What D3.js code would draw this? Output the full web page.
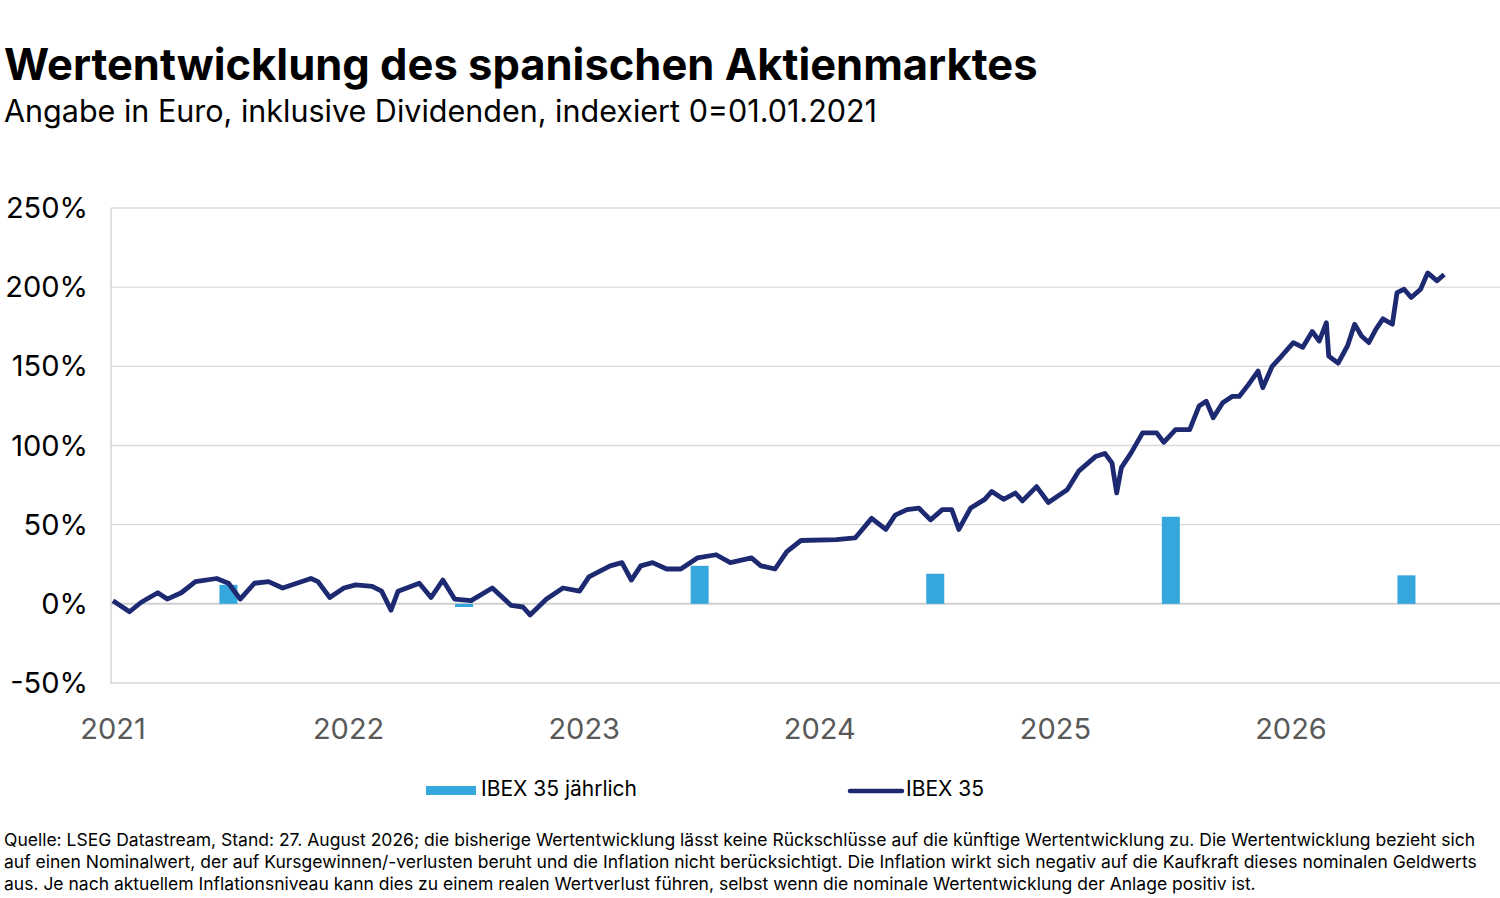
<!DOCTYPE html>
<html><head><meta charset="utf-8">
<script src="https://cdn.jsdelivr.net/npm/d3@7"></script>
<style>body{margin:0;background:#fff;font-family:Inter,"Noto Sans",sans-serif;}</style>
</head><body><svg id="c" width="1500" height="898"></svg>
<script>
const years = [2021.0,2021.07,2021.12,2021.19,2021.23,2021.29,2021.35,2021.44,2021.49,2021.54,2021.60,2021.66,2021.72,2021.78,2021.84,2021.87,2021.92,2021.98,2022.03,2022.10,2022.14,2022.18,2022.21,2022.30,2022.35,2022.40,2022.45,2022.52,2022.61,2022.69,2022.74,2022.77,2022.84,2022.91,2022.98,2023.02,2023.11,2023.16,2023.20,2023.24,2023.29,2023.35,2023.41,2023.48,2023.56,2023.62,2023.71,2023.75,2023.81,2023.86,2023.92,
2024.07,2024.15,2024.22,2024.28,2024.32,2024.37,2024.42,2024.47,2024.52,2024.56,2024.59,2024.64,2024.70,2024.73,2024.78,2024.83,2024.86,2024.92,2024.97,2025.05,2025.10,2025.17,2025.21,2025.24,2025.26,2025.28,2025.32,2025.37,2025.43,2025.46,2025.51,2025.57,2025.61,2025.64,2025.67,2025.71,2025.75,2025.78,2025.82,2025.86,2025.88,2025.92,2025.96,2026.01,2026.05,2026.09,2026.12,2026.15,2026.16,2026.20,2026.24,2026.27,2026.30,2026.33,2026.36,2026.39,2026.43,2026.45,2026.48,2026.51,2026.55,2026.58,2026.62,2026.65];
const ibex = [2,-5,1,7,3,7,14,16,13,3,13,14,10,13,16,14,4,10,12,11,8,-4,8,13,4,15,3,2,10,-1,-2,-7,3,10,8,17,24,26,15,24,26,22,22,29,31,26,29,24,22,33,40,
40.5,41.6,54,47,56,59.5,60.5,53,59.5,59.5,47,60.5,66,71,66,70,65,74,64,72,84,93,95,89,70,86,95,108,108,102,110,110,125,128,117.5,127,131,131,138.6,147,136.5,150,156.5,165,162,172,166,177.6,156.5,152,163,176.6,169,165,173.4,180,176.6,196.6,198.7,193.5,198.7,209,204,208];
const barYears = [2021,2022,2023,2024,2025,2026];
const barValues = [12,-2,24,19,55,18];
const yTicks = [-50,0,50,100,150,200,250];
const xTicks = [2021,2022,2023,2024,2025,2026];

const svg = d3.select("#c");
const x = d3.scaleLinear().domain([2021, 2026.887]).range([113,1500]);
const y = d3.scaleLinear().domain([-50,250]).range([683,208]);

svg.append("text").attr("x",4).attr("y",80).attr("font-size",43.5).attr("font-weight",700).attr("fill","#000").text("Wertentwicklung des spanischen Aktienmarktes");
svg.append("text").attr("x",4).attr("y",122).attr("font-size",30.5).attr("fill","#000").text("Angabe in Euro, inklusive Dividenden, indexiert 0=01.01.2021");

svg.append("g").selectAll("line").data(yTicks).join("line")
 .attr("x1",111).attr("x2",1500).attr("y1",d=>y(d)).attr("y2",d=>y(d))
 .attr("stroke",d=>d===0?"#cfcfcf":"#d9d9d9").attr("stroke-width",d=>d===0?2:1.3);
svg.append("line").attr("x1",111).attr("x2",111).attr("y1",208).attr("y2",684).attr("stroke","#d0d0d0").attr("stroke-width",1.3);

svg.append("g").selectAll("text").data(yTicks).join("text")
 .attr("x",88).attr("y",d=>y(d)+10).attr("text-anchor","end").attr("font-size",29).attr("fill","#000").text(d=>d+"%");
svg.append("g").selectAll("text").data(xTicks).join("text")
 .attr("x",d=>x(d)).attr("y",739).attr("text-anchor","middle").attr("font-size",29).attr("fill","#595959").text(d=>d);

svg.append("g").selectAll("rect").data(barYears.map((d,i)=>[d,barValues[i]])).join("rect")
 .attr("x",d=>x(d[0]+0.49)-9).attr("width",18)
 .attr("y",d=>y(Math.max(0,d[1]))).attr("height",d=>Math.abs(y(d[1])-y(0)))
 .attr("fill","#35a7dc");

const line = d3.line().x(d=>x(d[0])).y(d=>y(d[1]));
svg.append("path").datum(years.map((d,i)=>[d,ibex[i]])).attr("d",line)
 .attr("fill","none").attr("stroke","#1d2a72").attr("stroke-width",4.8).attr("stroke-linejoin","round");

svg.append("rect").attr("x",426).attr("y",786).attr("width",50).attr("height",9).attr("fill","#35a7dc");
svg.append("text").attr("x",481).attr("y",796).attr("font-size",21).attr("fill","#000").text("IBEX 35 jährlich");
svg.append("line").attr("x1",850).attr("x2",902).attr("y1",791).attr("y2",791).attr("stroke","#1d2a72").attr("stroke-width",4.5).attr("stroke-linecap","round");
svg.append("text").attr("x",906).attr("y",796).attr("font-size",21).attr("fill","#000").text("IBEX 35");

const foot = ["Quelle: LSEG Datastream, Stand: 27. August 2026; die bisherige Wertentwicklung lässt keine Rückschlüsse auf die künftige Wertentwicklung zu. Die Wertentwicklung bezieht sich",
"auf einen Nominalwert, der auf Kursgewinnen/-verlusten beruht und die Inflation nicht berücksichtigt. Die Inflation wirkt sich negativ auf die Kaufkraft dieses nominalen Geldwerts",
"aus. Je nach aktuellem Inflationsniveau kann dies zu einem realen Wertverlust führen, selbst wenn die nominale Wertentwicklung der Anlage positiv ist."];
svg.append("g").selectAll("text").data(foot).join("text")
 .attr("x",4).attr("y",(d,i)=>846+i*22).attr("font-size",17.5).attr("fill","#000").text(d=>d);
</script></body></html>
